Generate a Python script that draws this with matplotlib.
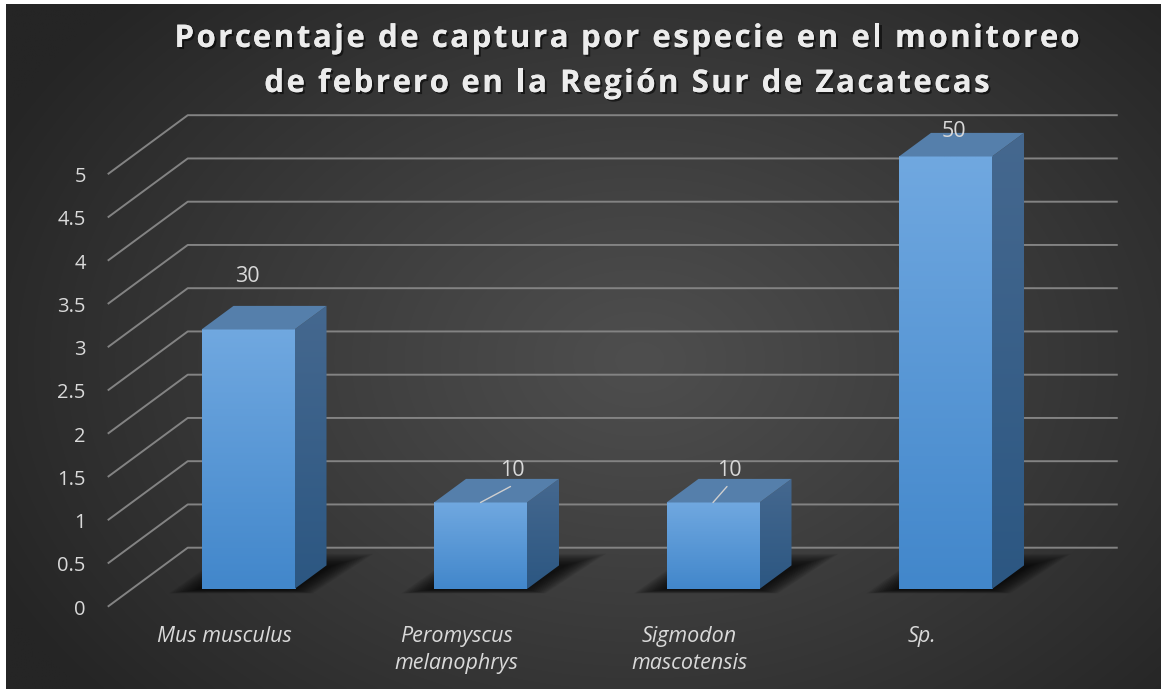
import numpy as np
import matplotlib
matplotlib.use('Agg')
import matplotlib.pyplot as plt
from matplotlib.patches import Polygon
from matplotlib.font_manager import FontProperties
import matplotlib.patheffects as pe

# ---------------- data ----------------
categories = ['Mus musculus', 'Peromyscus\nmelanophrys', 'Sigmodon\nmascotensis', 'Sp.']
values = [3, 1, 1, 5]
data_labels = ['30', '10', '10', '50']
yticks = [0, 0.5, 1, 1.5, 2, 2.5, 3, 3.5, 4, 4.5, 5]
ytick_labels = ['0', '0.5', '1', '1.5', '2', '2.5', '3', '3.5', '4', '4.5', '5']
title_lines = ['Porcentaje de captura por especie en el monitoreo',
               'de febrero en la Región Sur de Zacatecas']

# ---------------- styling ----------------
W, H = 1161, 689
FONT = 'Open Sans'
TXT = '#d9d9d9'
GRID = '#838383'
label_offsets = [(-1, 53), (32, 32), (16, 32), (8, 25)]   # pixels
leader = [False, True, True, False]

fig = plt.figure(figsize=(W / 100, H / 100), dpi=100, facecolor='white')

# background radial gradient
bg = fig.add_axes([6 / W, 0, (W - 6) / W, (H - 4) / H])
bg.set_axis_off()
ny, nx = 300, 500
yy, xx = np.mgrid[0:ny, 0:nx]
px = 6 + xx / (nx - 1) * (W - 6)
py = 4 + yy / (ny - 1) * (H - 4)
r = np.sqrt(((px - 640) / 720) ** 2 + ((py - 360) / 520) ** 2)
t = np.clip(r, 0, 1) ** 1.1
c_center = np.array([78, 78, 78]) / 255
c_edge = np.array([37, 37, 37]) / 255
img = c_center[None, None, :] * (1 - t[..., None]) + c_edge[None, None, :] * t[..., None]
bg.imshow(img, extent=[0, 1, 1, 0], aspect='auto', interpolation='bilinear')
bg.set_xlim(0, 1)
bg.set_ylim(1, 0)

# main axes: x = category index, y = value (oblique 3D projection)
ax = fig.add_axes([0, 0, 1, 1])
ax.set_axis_off()
ax.patch.set_alpha(0)
XS = 232.5   # px per category
VS = 86.5    # px per value unit
X0, V0 = 248, 589
XL = (0 - X0) / XS, (W - X0) / XS
YL = (V0 - H) / VS, V0 / VS
DX = 80 / XS
DV = 59 / VS
Z_FRONT, Z_BACK = -0.3, 0.7
BW, BD = 0.4, 0.4


def proj(x, v, z):
    return x + z * DX, v + z * DV


n = len(categories)
xl, xr = -0.5, n - 0.5

# gridlines (wall + floor diagonal)
for v in yticks:
    pts = [proj(xl, v, Z_FRONT), proj(xl, v, Z_BACK), proj(xr, v, Z_BACK)]
    ax.plot([p[0] for p in pts], [p[1] for p in pts], color=GRID, lw=1.4,
            zorder=1, solid_capstyle='butt')

# tick labels
for v, lab in zip(yticks, ytick_labels):
    ax.annotate(lab, xy=proj(xl, v, Z_FRONT), xytext=(-22, -3),
                textcoords='offset pixels', ha='right', va='center',
                fontsize=14.5, color=TXT, family=FONT)


def vgrad(top, bottom, n=64):
    top = np.array(top) / 255
    bottom = np.array(bottom) / 255
    s = np.linspace(0, 1, n)[:, None]
    return (top * (1 - s) + bottom * s)[:, None, :]


for i, val in enumerate(values):
    x0, x1 = i - BW / 2, i + BW / 2
    # soft shadow
    for k in range(14):
        ex = 0.008 * k
        ez = 0.015 * k
        sh = [proj(x0 - ex - 0.01, 0, -0.015 - ez * 0.3), proj(x1 + ex, 0, -0.015 - ez * 0.3),
              proj(x1 + ex + 0.03, 0, BD + ez), proj(x0 - ex, 0, BD + ez)]
        ax.add_patch(Polygon(sh, closed=True, facecolor='black', edgecolor='none',
                             alpha=0.075, zorder=2))
    # front face
    ax.imshow(vgrad((112, 168, 224), (66, 135, 203)), extent=[x0, x1, 0, val],
              aspect='auto', interpolation='bilinear', zorder=3)
    # side face
    side = [proj(x1, 0, 0), proj(x1, 0, BD), proj(x1, val, BD), proj(x1, val, 0)]
    sp = Polygon(side, closed=True, transform=ax.transData)
    sx1, sv1 = proj(x1, val, BD)
    im = ax.imshow(vgrad((69, 104, 143), (44, 87, 130)),
                   extent=[x1, sx1, 0, sv1], aspect='auto',
                   interpolation='bilinear', zorder=3)
    im.set_clip_path(sp)
    # top face
    top = [proj(x0, val, 0), proj(x1, val, 0), proj(x1, val, BD), proj(x0, val, BD)]
    ax.add_patch(Polygon(top, closed=True, facecolor='#557fab', edgecolor='none', zorder=3))

    # data label
    anchor = proj(i, val, 0)
    ax.annotate(data_labels[i], xy=anchor, xytext=label_offsets[i],
                textcoords='offset pixels', ha='center', va='center',
                fontsize=15.5, color=TXT, family=FONT, zorder=6)
    if leader[i]:
        ax.annotate('', xy=anchor, xytext=(label_offsets[i][0] - 2, label_offsets[i][1] - 16),
                    textcoords='offset pixels',
                    arrowprops=dict(arrowstyle='-', color='#cfcfcf', lw=1.0,
                                    shrinkA=0, shrinkB=0), zorder=6)

    # category label
    ax.annotate(categories[i], xy=proj(i, 0, Z_FRONT), xytext=(0, -19),
                textcoords='offset pixels', ha='center', va='top',
                fontsize=15.5, style='italic', color=TXT, family=FONT,
                linespacing=1.4)

ax.set_xlim(*XL)
ax.set_ylim(*YL)

# title with letter spacing
renderer = fig.canvas.get_renderer()
fp = FontProperties(family=FONT, weight='bold', size=22.5)


def tw(s):
    return renderer.get_text_width_height_descent(s, fp, ismath=False)[0]


def tracked_text(s, cx, y_img, tracking):
    wl = tw('l')
    pos = [tw(s[:k] + 'l') - wl if k > 0 else 0.0 for k in range(len(s))]
    total = tw(s) + tracking * (len(s) - 1)
    left = cx - total / 2
    for k, ch in enumerate(s):
        if ch == ' ':
            continue
        fig.text((left + pos[k] + tracking * k) / W, 1 - y_img / H, ch,
                 fontproperties=fp, color='#ececec', ha='left', va='baseline',
                 path_effects=[pe.withSimplePatchShadow(offset=(1.5, -1.5),
                                                        shadow_rgbFace='black', alpha=0.55),
                               pe.Normal()])


target = 905
track = (target - tw(title_lines[0])) / (len(title_lines[0]) - 1)
tracked_text(title_lines[0], 627, 47, track)
tracked_text(title_lines[1], 627, 92, track)

fig.savefig('out.png', dpi=100, facecolor=fig.get_facecolor())
